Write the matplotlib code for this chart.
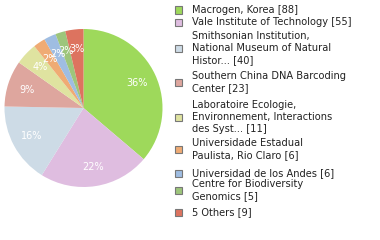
import matplotlib
matplotlib.use("Agg")
import matplotlib.pyplot as plt
from matplotlib.patches import Rectangle

# data
labels = ["Macrogen, Korea [88]",
          "Vale Institute of Technology [55]",
          "Smithsonian Institution,\nNational Museum of Natural\nHistor... [40]",
          "Southern China DNA Barcoding\nCenter [23]",
          "Laboratoire Ecologie,\nEnvironnement, Interactions\ndes Syst... [11]",
          "Universidade Estadual\nPaulista, Rio Claro [6]",
          "Universidad de los Andes [6]",
          "Centre for Biodiversity\nGenomics [5]",
          "5 Others [9]"]
values = [88, 55, 40, 23, 11, 6, 6, 5, 9]
colors = ["#9ed95b", "#dfbde0", "#cddbe6", "#dea69e", "#dfe3a0",
          "#efab74", "#9fbde2", "#9dc57b", "#dd735f"]
legend_y = [10, 22, 48, 82, 117, 149, 173, 190, 212]  # px from top

W, H = 380, 240
fig = plt.figure(figsize=(W / 100, H / 100), dpi=100)

# pie axes
cx, cy, r = 83.5, 108, 79
ax = fig.add_axes([(cx - r) / W, 1 - (cy + r) / H, 2 * r / W, 2 * r / H])
wedges, texts, autotexts = ax.pie(
    values, colors=colors, startangle=90, counterclock=False,
    autopct=lambda p: "%d%%" % int(p), pctdistance=0.75,
    wedgeprops=dict(linewidth=0),
    textprops=dict(color="white", fontsize=7))
ax.set_aspect("equal")
ax.set_xlim(-1, 1)
ax.set_ylim(-1, 1)

# legend drawn by hand
for lab, col, y in zip(labels, colors, legend_y):
    fig.patches.append(Rectangle((175 / W, 1 - (y + 3.5) / H), 7 / W, 7 / H,
                                 transform=fig.transFigure, facecolor=col,
                                 edgecolor="#777777", linewidth=0.8))
    fig.text(192 / W, 1 - y / H, lab, fontsize=7.1, va="center",
             ha="left", color="#222222", linespacing=1.3)

fig.savefig("out.png", dpi=100)
